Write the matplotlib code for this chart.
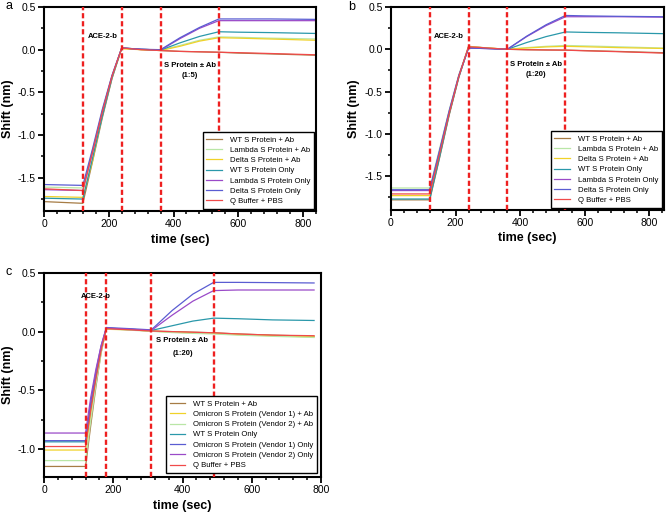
import matplotlib
matplotlib.use('Agg')
import matplotlib.pyplot as plt
from matplotlib.ticker import MultipleLocator, FormatStrFormatter

plt.rcParams['font.family'] = ['Liberation Sans', 'DejaVu Sans']
plt.rcParams['axes.unicode_minus'] = False

# colours per trace
C_BROWN = '#a67c45'
C_LGREEN = '#b9e6a6'
C_YELLOW = '#f0d229'
C_TEAL = '#2a98aa'
C_PURPLE = '#9a4ac8'
C_BLUE = '#5a5cd2'
C_RED = '#f04a4a'
STEP_RED = '#ee2020'

# ---- panel a (1:5) ----
t_a = [0, 120, 150, 180, 210, 240, 300, 360, 420, 480, 540, 600, 700, 840]
labels_a = ['WT S Protein + Ab', 'Lambda S Protein + Ab', 'Delta S Protein + Ab',
            'WT S Protein Only', 'Lambda S Protein Only', 'Delta S Protein Only',
            'Q Buffer + PBS']
wt_ab_a = [-1.78, -1.80, -1.31, -0.80, -0.34, 0.02, 0.0, -0.01, -0.02, -0.025, -0.03, -0.04, -0.05, -0.065]
lambda_ab_a = [-1.61, -1.62, -1.18, -0.72, -0.31, 0.02, 0.005, -0.005, 0.05, 0.11, 0.15, 0.145, 0.135, 0.125]
delta_ab_a = [-1.72, -1.73, -1.30, -0.77, -0.33, 0.01, 0.0, -0.01, 0.04, 0.10, 0.14, 0.135, 0.125, 0.11]
wt_only_a = [-1.74, -1.75, -1.27, -0.78, -0.33, 0.02, 0.005, -0.005, 0.08, 0.155, 0.21, 0.205, 0.20, 0.19]
lambda_only_a = [-1.64, -1.65, -1.20, -0.73, -0.31, 0.02, 0.005, -0.005, 0.13, 0.25, 0.34, 0.34, 0.34, 0.34]
delta_only_a = [-1.58, -1.59, -1.16, -0.70, -0.30, 0.02, 0.005, 0.0, 0.14, 0.26, 0.36, 0.36, 0.36, 0.355]
buffer_a = [-1.63, -1.65, -1.20, -0.73, -0.31, 0.02, 0.0, -0.01, -0.02, -0.025, -0.03, -0.035, -0.045, -0.06]

# ---- panel b (1:20) ----
t_b = [0, 120, 150, 180, 210, 240, 300, 360, 420, 480, 540, 600, 700, 840]
labels_b = labels_a
wt_ab_b = [-1.78, -1.78, -1.29, -0.78, -0.33, 0.035, 0.015, 0.0, -0.005, -0.008, -0.01, -0.015, -0.025, -0.04]
lambda_ab_b = [-1.64, -1.64, -1.18, -0.72, -0.30, 0.03, 0.015, 0.0, 0.02, 0.035, 0.045, 0.04, 0.03, 0.015]
delta_ab_b = [-1.73, -1.73, -1.25, -0.76, -0.32, 0.03, 0.015, 0.0, 0.015, 0.028, 0.035, 0.03, 0.02, 0.01]
wt_only_b = [-1.77, -1.77, -1.28, -0.77, -0.33, 0.02, 0.01, 0.0, 0.08, 0.15, 0.205, 0.20, 0.195, 0.185]
lambda_only_b = [-1.67, -1.67, -1.21, -0.74, -0.31, 0.015, 0.008, 0.0, 0.15, 0.28, 0.385, 0.385, 0.385, 0.38]
delta_only_b = [-1.66, -1.66, -1.20, -0.73, -0.31, 0.015, 0.008, 0.0, 0.155, 0.29, 0.40, 0.395, 0.39, 0.385]
buffer_b = [-1.71, -1.71, -1.24, -0.76, -0.32, 0.03, 0.015, 0.0, -0.005, -0.008, -0.01, -0.018, -0.028, -0.045]

# ---- panel c (1:20, omicron) ----
t_c = [0, 120, 135, 150, 165, 180, 250, 310, 370, 430, 490, 560, 660, 780]
labels_c = ['WT S Protein + Ab', 'Omicron S Protein (Vendor 1) + Ab',
            'Omicron S Protein (Vendor 2) + Ab', 'WT S Protein Only',
            'Omicron S Protein (Vendor 1) Only', 'Omicron S Protein (Vendor 2) Only',
            'Q Buffer + PBS']
wt_ab_c = [-1.15, -1.15, -0.80, -0.47, -0.18, 0.03, 0.015, 0.005, 0.0, -0.005, -0.01, -0.02, -0.03, -0.04]
om1_ab_c = [-1.01, -1.01, -0.70, -0.42, -0.17, 0.02, 0.015, 0.005, -0.005, -0.01, -0.015, -0.025, -0.035, -0.045]
om2_ab_c = [-1.10, -1.10, -0.76, -0.45, -0.18, 0.025, 0.012, 0.003, -0.008, -0.015, -0.02, -0.03, -0.04, -0.05]
wt_only_c = [-0.94, -0.94, -0.64, -0.38, -0.14, 0.03, 0.02, 0.01, 0.05, 0.09, 0.115, 0.11, 0.10, 0.095]
om1_only_c = [-0.93, -0.93, -0.60, -0.34, -0.12, 0.035, 0.025, 0.015, 0.18, 0.32, 0.42, 0.42, 0.418, 0.415]
om2_only_c = [-0.865, -0.865, -0.56, -0.32, -0.12, 0.03, 0.02, 0.01, 0.14, 0.26, 0.35, 0.355, 0.355, 0.355]
buffer_c = [-0.98, -0.98, -0.67, -0.40, -0.16, 0.025, 0.015, 0.005, 0.0, -0.005, -0.01, -0.02, -0.03, -0.035]

steps_ab = [120, 240, 360, 540]
steps_c = [120, 180, 310, 490]
colors = [C_BROWN, C_LGREEN, C_YELLOW, C_TEAL, C_PURPLE, C_BLUE, C_RED]
colors_c = [C_BROWN, C_YELLOW, C_LGREEN, C_TEAL, C_BLUE, C_PURPLE, C_RED]


def draw_panel(ax, t, series, labels, cols, steps, xlim, ylim, ace_xy, sp_xy, ratio, leg_pad):
    for y, lab, col in zip(series, labels, cols):
        ax.plot(t, y, color=col, lw=0.9, label=lab, zorder=2)
    for s in steps:
        ax.axvline(s, color=STEP_RED, lw=1.7, ls=(0, (2.2, 1.2)), zorder=3)
    ax.set_xlim(*xlim)
    ax.set_ylim(*ylim)
    ax.xaxis.set_major_locator(MultipleLocator(200))
    ax.xaxis.set_minor_locator(MultipleLocator(40))
    ax.yaxis.set_major_locator(MultipleLocator(0.5))
    ax.yaxis.set_minor_locator(MultipleLocator(0.25))
    ax.yaxis.set_major_formatter(FormatStrFormatter('%.1f'))
    for sp in ax.spines.values():
        sp.set_linewidth(1.5)
    ax.tick_params(which='major', length=4, width=1.3, labelsize=7.5, pad=2)
    ax.tick_params(which='minor', length=2.5, width=1.1)
    ax.set_xlabel('time (sec)', fontsize=9, fontweight='bold', labelpad=3)
    ax.set_ylabel('Shift (nm)', fontsize=9, fontweight='bold', labelpad=3)
    ax.text(ace_xy[0], ace_xy[1], 'ACE-2-b', fontsize=5.5, fontweight='bold',
            ha='center', va='center')
    ax.text(sp_xy[0], sp_xy[1], 'S Protein \u00b1 Ab', fontsize=5.5, fontweight='bold',
            ha='center', va='center')
    ax.text(sp_xy[0], sp_xy[1] - 0.115, ratio, fontsize=5.5, fontweight='bold',
            ha='center', va='center')
    leg = ax.legend(loc='lower right', fontsize=5.6, frameon=True, fancybox=False,
                    edgecolor='black', borderaxespad=leg_pad, labelspacing=0.36,
                    handlelength=2.0, handletextpad=1.0, borderpad=0.5)
    leg.get_frame().set_linewidth(1.0)
    leg.get_frame().set_alpha(1)
    for h in leg.get_lines():
        h.set_linewidth(0.9)


fig = plt.figure(figsize=(6.69, 5.15), dpi=100)

ax_a = fig.add_axes([44 / 669, 304 / 515, 272 / 669, 204 / 515])
draw_panel(ax_a, t_a, [wt_ab_a, lambda_ab_a, delta_ab_a, wt_only_a, lambda_only_a, delta_only_a, buffer_a],
           labels_a, colors, steps_ab, (0, 840), (-1.89, 0.5), (180, 0.15), (450, -0.19), '(1:5)', 0.25)

ax_b = fig.add_axes([391 / 669, 305 / 515, 273 / 669, 203 / 515])
draw_panel(ax_b, t_b, [wt_ab_b, lambda_ab_b, delta_ab_b, wt_only_b, lambda_only_b, delta_only_b, buffer_b],
           labels_b, colors, steps_ab, (0, 845), (-1.90, 0.5), (180, 0.155), (450, -0.18), '(1:20)', 0.25)

ax_c = fig.add_axes([44 / 669, 38 / 515, 277 / 669, 204 / 515])
draw_panel(ax_c, t_c, [wt_ab_c, om1_ab_c, om2_ab_c, wt_only_c, om1_only_c, om2_only_c, buffer_c],
           labels_c, colors_c, steps_c, (0, 800), (-1.24, 0.5), (150, 0.30), (400, -0.075), '(1:20)', 0.5)

fig.text(5 / 669, 1 - 6 / 515, 'a', fontsize=9, ha='left', va='center')
fig.text(348 / 669, 1 - 7 / 515, 'b', fontsize=9, ha='left', va='center')
fig.text(5 / 669, 1 - 272 / 515, 'c', fontsize=9, ha='left', va='center')

fig.savefig('out.png', dpi=100)
